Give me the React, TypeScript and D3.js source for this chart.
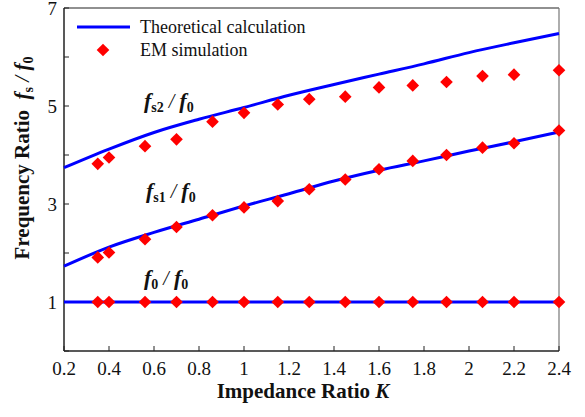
import * as d3 from "d3";

// theoretical curves (read at 0.2 steps)
const theoryK = [0.2, 0.4, 0.6, 0.8, 1.0, 1.2, 1.4, 1.6, 1.8, 2.0, 2.2, 2.4];
const theoryFs2 = [3.74, 4.12, 4.46, 4.73, 4.97, 5.22, 5.44, 5.65, 5.86, 6.09, 6.29, 6.48];
const theoryFs1 = [1.73, 2.12, 2.42, 2.69, 2.96, 3.21, 3.47, 3.69, 3.88, 4.08, 4.27, 4.47];
const theoryF0 = [1, 1, 1, 1, 1, 1, 1, 1, 1, 1, 1, 1];

// EM simulation points
const simK = [0.35, 0.4, 0.56, 0.7, 0.86, 1.0, 1.15, 1.29, 1.45, 1.6, 1.75, 1.9, 2.06, 2.2, 2.4];
const simFs2 = [3.82, 3.95, 4.18, 4.32, 4.68, 4.86, 5.03, 5.14, 5.19, 5.38, 5.42, 5.49, 5.61, 5.64, 5.73];
const simFs1 = [1.91, 2.01, 2.28, 2.53, 2.77, 2.93, 3.06, 3.3, 3.5, 3.71, 3.88, 4.0, 4.15, 4.24, 4.5];
const simF0 = [1, 1, 1, 1, 1, 1, 1, 1, 1, 1, 1, 1, 1, 1, 1];

const xTicks = [0.2, 0.4, 0.6, 0.8, 1, 1.2, 1.4, 1.6, 1.8, 2, 2.2, 2.4];
const yTicks = [0, 1, 2, 3, 4, 5, 6, 7];
const yLabels = [1, 3, 5, 7];

const W = 585;
const H = 417;
const FONT = "Liberation Serif";
const margin = { top: 8, right: 26, bottom: 66, left: 64 };

function CurveLabel({ x, y, sub }: { x: number; y: number; sub: string }) {
  return (
    <text x={x} y={y} fill="#111" style={{ fontFamily: FONT }}>
      <tspan fontSize={22} fontWeight="bold" fontStyle="italic">f</tspan>
      <tspan fontSize={14} fontWeight="bold" dy={4}>{sub}</tspan>
      <tspan fontSize={20} fontStyle="italic" dy={-4}>{" / "}</tspan>
      <tspan fontSize={22} fontWeight="bold" fontStyle="italic">f</tspan>
      <tspan fontSize={14} fontWeight="bold" dy={4}>0</tspan>
    </text>
  );
}

export default function App() {
  const x = d3.scaleLinear().domain([0.2, 2.4]).range([margin.left, W - margin.right]);
  const y = d3.scaleLinear().domain([0, 7]).range([H - margin.bottom, margin.top]);
  const fmt = d3.format("~g");

  const line = d3
    .line<number>()
    .x((_, i) => x(theoryK[i]))
    .y((d) => y(d))
    .curve(d3.curveMonotoneX);

  const diamond = d3.symbol().type(d3.symbolSquare).size(80)() as string;

  const x0 = x(0.2);
  const x1 = x(2.4);
  const y0 = y(0);
  const y7 = y(7);

  return (
    <svg
      width={W}
      height={H}
      style={{ position: "absolute", left: 0, top: 0, background: "#fff", fontFamily: FONT }}
    >
      {/* frame */}
      <line x1={x0} x2={x1} y1={y7} y2={y7} stroke="#222" strokeWidth={1.2} />
      <line x1={x1} x2={x1} y1={y7} y2={y0} stroke="#777" strokeWidth={1.2} />
      <line x1={x0} x2={x0} y1={y7} y2={y0} stroke="#222" strokeWidth={1.5} />
      <line x1={x0} x2={x1} y1={y0} y2={y0} stroke="#222" strokeWidth={1.5} />

      {/* x ticks */}
      {xTicks.map((t) => (
        <g key={"x" + t}>
          <line x1={x(t)} x2={x(t)} y1={y0} y2={y0 - 5} stroke="#222" />
          <text x={x(t)} y={y0 + 24} textAnchor="middle" fontSize={19} fill="#111" style={{ fontFamily: FONT }}>
            {fmt(t)}
          </text>
        </g>
      ))}

      {/* y ticks */}
      {yTicks.map((t) => (
        <g key={"y" + t}>
          <line x1={x0} x2={x0 + 5} y1={y(t)} y2={y(t)} stroke="#222" />
          {yLabels.includes(t) && (
            <text x={x0 - 7} y={y(t) + 7} textAnchor="end" fontSize={19} fill="#111" style={{ fontFamily: FONT }}>
              {t}
            </text>
          )}
        </g>
      ))}

      {/* theory lines */}
      {[theoryFs2, theoryFs1, theoryF0].map((s, i) => (
        <path key={"l" + i} d={line(s) ?? ""} fill="none" stroke="#0000ff" strokeWidth={3} />
      ))}

      {/* simulation points */}
      {[simFs2, simFs1, simF0].map((s, j) =>
        s.map((v, i) => (
          <path
            key={`p${j}-${i}`}
            d={diamond}
            transform={`translate(${x(simK[i])},${y(v)}) rotate(45)`}
            fill="#ff0000"
          />
        ))
      )}

      {/* legend */}
      <line x1={77} x2={130} y1={27} y2={27} stroke="#0000ff" strokeWidth={3} />
      <text x={140} y={33} fontSize={18} fill="#111" style={{ fontFamily: FONT }}>
        Theoretical calculation
      </text>
      <path d={diamond} transform="translate(103,50) rotate(45)" fill="#ff0000" />
      <text x={140} y={56} fontSize={18} fill="#111" style={{ fontFamily: FONT }}>
        EM simulation
      </text>

      {/* curve labels */}
      <CurveLabel x={144} y={108} sub="s2" />
      <CurveLabel x={146} y={198} sub="s1" />
      <CurveLabel x={144} y={285} sub="0" />

      {/* axis titles */}
      <text x={303} y={398} textAnchor="middle" fontSize={21} fontWeight="bold" fill="#111" style={{ fontFamily: FONT }}>
        Impedance Ratio <tspan fontStyle="italic">K</tspan>
      </text>
      <text
        transform="translate(29,158) rotate(-90)"
        textAnchor="middle"
        fontSize={21}
        fontWeight="bold"
        fill="#111"
        style={{ fontFamily: FONT }}
      >
        {"Frequency Ratio\u00a0\u00a0"}
        <tspan fontStyle="italic">f</tspan>
        <tspan fontSize={14} dy={4}>s</tspan>
        <tspan fontWeight="normal" fontStyle="italic" dy={-4}>{" / "}</tspan>
        <tspan fontStyle="italic">f</tspan>
        <tspan fontSize={14} dy={4}>0</tspan>
      </text>
    </svg>
  );
}
